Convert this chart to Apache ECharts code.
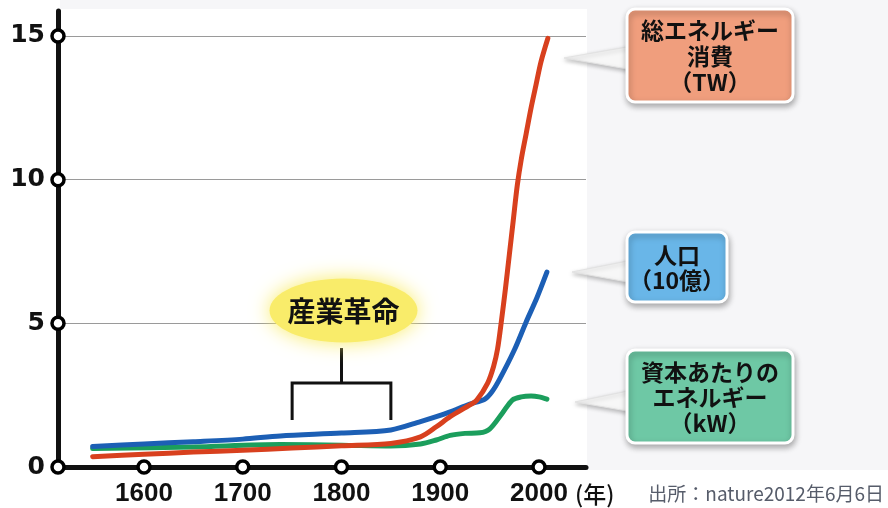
<!DOCTYPE html>
<html>
<head>
<meta charset="utf-8">
<script src="https://cdn.jsdelivr.net/npm/echarts@6/dist/echarts.min.js"></script>
<style>
html, body { margin: 0; padding: 0; background: #fff; }
#chart { width: 888px; height: 508px; }
</style>
</head>
<body>
<div id="chart"></div>
<script>
// 値は図から読み取ったもの
const xTicks = [1600, 1700, 1800, 1900, 2000];
const yTicks = [0, 5, 10, 15];

const energyYears = [1548, 1600, 1650, 1700, 1750, 1800, 1850, 1880, 1896, 1910, 1930, 1937, 1948, 1954, 1958, 1962, 1966, 1970, 1974, 1978, 1982, 1987, 1992, 1997, 2002, 2009];
const energyTW    = [0.36, 0.44, 0.52, 0.58, 0.66, 0.74, 0.82, 1.05, 1.40, 1.75, 2.16, 2.33, 2.92, 3.50, 4.10, 5.10, 6.20, 7.40, 8.60, 9.80, 10.7, 11.6, 12.5, 13.3, 14.1, 14.92];

const popYears = [1548, 1600, 1650, 1700, 1738, 1800, 1850, 1880, 1896, 1910, 1930, 1945, 1952, 1960, 1975, 1987, 1998, 2008];
const popBillion = [0.71, 0.80, 0.88, 0.97, 1.08, 1.18, 1.29, 1.58, 1.75, 1.92, 2.19, 2.36, 2.60, 3.05, 4.07, 5.05, 5.90, 6.78];

const perCapYears = [1548, 1650, 1738, 1800, 1850, 1880, 1896, 1910, 1925, 1940, 1950, 1963, 1973, 1982, 1992, 2000, 2008];
const perCapKW    = [0.64, 0.70, 0.78, 0.76, 0.73, 0.80, 0.94, 1.10, 1.17, 1.19, 1.32, 1.88, 2.33, 2.44, 2.47, 2.44, 2.36];

const xMin = 1512.9, xMax = 2047.6, yMax = 15.87;

const chart = echarts.init(document.getElementById('chart'));

const zip = (xs, ys) => xs.map((x, i) => [x, ys[i]]);

function lineSeries(name, data, color) {
    return {
        name: name,
        type: 'line',
        data: data,
        smooth: 0.3,
        symbol: 'none',
        silent: true,
        lineStyle: { color: color, width: 5, cap: 'round', join: 'round' },
        z: 3
    };
}

const tickDots = yTicks.map(v => [xMin, v]).concat(xTicks.map(v => [v, 0]));

const option = {
    animation: false,
    grid: { left: 58, right: 302, top: 11, bottom: 41 },
    xAxis: {
        type: 'value',
        min: xMin,
        max: xMax,
        splitLine: { show: false },
        axisTick: { show: false },
        axisLine: { lineStyle: { color: '#111', width: 5 } },
        axisLabel: {
            customValues: xTicks,
            margin: 14,
            color: '#111',
            fontFamily: 'Liberation Sans',
            fontWeight: 'bold',
            fontSize: 26,
            formatter: v => String(v)
        }
    },
    yAxis: {
        type: 'value',
        min: 0,
        max: yMax,
        interval: 5,
        axisTick: { show: false },
        axisLine: { show: true, lineStyle: { color: '#111', width: 5 } },
        splitLine: { show: true, showMinLine: false, showMaxLine: false, lineStyle: { color: '#9a9a9a', width: 1.2 } },
        axisLabel: {
            margin: 13,
            color: '#111',
            fontFamily: 'DejaVu Sans',
            fontWeight: 'bold',
            fontSize: 25,
            formatter: v => (v % 5 === 0 ? String(v) : '')
        }
    },
    series: [
        lineSeries('資本あたりのエネルギー', zip(perCapYears, perCapKW), '#1b9e5c'),
        lineSeries('人口', zip(popYears, popBillion), '#1c5fb5'),
        lineSeries('総エネルギー消費', zip(energyYears, energyTW), '#d8401e'),
        {
            type: 'scatter',
            data: tickDots,
            symbol: 'circle',
            symbolSize: 12,
            clip: false,
            silent: true,
            itemStyle: { color: '#fff', borderColor: '#000', borderWidth: 3.5, opacity: 1 },
            z: 10
        }
    ]
};
chart.setOption(option);

// 吹き出し
function callout(box, tip, color, text, lh) {
    const [x, y, w, h] = box;
    return [
        {
            type: 'polygon', z: 20,
            shape: { points: [[x + 6, tip[2]], [tip[0], tip[1]], [x + 6, tip[3]]] },
            style: { fill: '#f7f7f7', stroke: '#e2e2e2', lineWidth: 1, shadowBlur: 4, shadowColor: 'rgba(0,0,0,0.25)', shadowOffsetY: 2 }
        },
        {
            type: 'rect', z: 21,
            shape: { x: x, y: y, width: w, height: h, r: 8 },
            style: { fill: color, stroke: '#fff', lineWidth: 3, shadowBlur: 6, shadowColor: 'rgba(0,0,0,0.3)', shadowOffsetX: 1, shadowOffsetY: 3 }
        },
        {
            type: 'text', z: 22,
            x: x + w / 2, y: y + h / 2 + 1,
            style: {
                text: text, fill: '#111', align: 'center', verticalAlign: 'middle',
                font: 'bold 23px "Noto Sans CJK JP"', lineHeight: lh
            }
        }
    ];
}

const px = (yr, v) => chart.convertToPixel({ gridIndex: 0 }, [yr, v]);
const bL = px(1750, 1.64), bR = px(1850, 1.64), bMid = px(1800, 2.92), bTop = px(1800, 4.14);
const glow = px(1800, 5.45);

const graphic = [
    { type: 'rect', z: -1, shape: { x: 587, y: 0, width: 301, height: 470 }, style: { fill: '#f6f6f8' } },
    { type: 'rect', z: -1, shape: { x: 60, y: 0, width: 527, height: 9 }, style: { fill: '#f6f6f8' } },
    {
        type: 'polyline', z: 5,
        shape: { points: [[bL[0], bL[1]], [bL[0], bMid[1]], [bR[0], bMid[1]], [bR[0], bR[1]]] },
        style: { stroke: '#111', lineWidth: 3, fill: null }
    },
    {
        type: 'line', z: 5,
        shape: { x1: bTop[0], y1: bTop[1], x2: bMid[0], y2: bMid[1] },
        style: { stroke: '#111', lineWidth: 3 }
    },
    {
        type: 'ellipse', z: 6,
        shape: { cx: glow[0] + 2, cy: glow[1], rx: 74, ry: 32 },
        style: { fill: '#f9ec6a', shadowBlur: 20, shadowColor: 'rgba(249,236,106,1)' }
    },
    {
        type: 'text', z: 7,
        x: glow[0] + 2, y: glow[1] + 1,
        style: { text: '産業革命', fill: '#111', align: 'center', verticalAlign: 'middle', font: 'bold 28px "Noto Sans CJK JP"' }
    },
    {
        type: 'text', z: 7, x: 575, y: 494,
        style: { text: '(年)', fill: '#111', verticalAlign: 'middle', font: '500 23px "Noto Sans CJK JP"' }
    },
    {
        type: 'text', z: 7, x: 884, y: 494,
        style: { text: '出所：nature2012年6月6日', fill: '#565c6a', align: 'right', verticalAlign: 'middle', font: '19px "Noto Sans CJK JP"' }
    }
].concat(
    callout([627, 9, 166, 93], [564, 58, 46, 70], '#f09e7d', '総エネルギー\n消費\n（TW）', 26),
    callout([627, 232, 100, 70], [572, 272, 260, 283], '#69b6e8', '人口\n（10億）', 25),
    callout([627, 350, 166, 93], [575, 402, 390, 412], '#6ec8a5', '資本あたりの\nエネルギー\n（kW）', 25.5)
);

chart.setOption({ graphic: graphic });
</script>
</body>
</html>
